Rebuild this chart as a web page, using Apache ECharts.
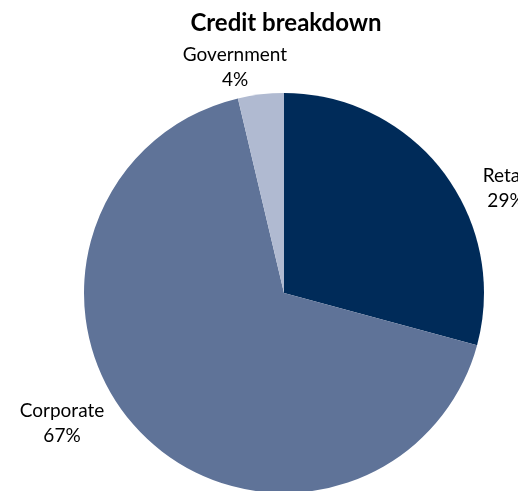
<!DOCTYPE html>
<html>
<head>
<meta charset="UTF-8">
<title>Credit breakdown</title>
<script src="https://cdn.jsdelivr.net/npm/echarts@6/dist/echarts.min.js"></script>
<style>
  html, body { margin: 0; padding: 0; background: #fff; }
  #main { width: 518px; height: 491px; }
</style>
</head>
<body>
<div id="main"></div>
<script>
  // slices, clockwise from 12 o'clock
  var categories = ['Retail', 'Corporate', 'Government'];
  var shares = [29.2, 67.1, 3.7];
  var colors = ['#002b59', '#5f7398', '#b0bad1'];
  // where each label sits (centre of the two-line text)
  var labelPos = [[506, 188], [62, 423], [235, 67]];

  var chart = echarts.init(document.getElementById('main'));

  var pieData = [];
  for (var i = 0; i < categories.length; i++) {
    pieData.push({ name: categories[i], value: shares[i], itemStyle: { color: colors[i] } });
  }

  chart.setOption({
    animation: false,
    title: {
      text: 'Credit breakdown',
      left: 281,
      top: 6,
      textAlign: 'center',
      textStyle: { fontFamily: 'Lato', fontWeight: 'bold', fontSize: 24, color: '#000' }
    },
    series: [{
      type: 'pie',
      center: [284, 293],
      radius: 200,
      startAngle: 90,
      clockwise: true,
      data: pieData,
      label: {
        show: true,
        position: 'outside',
        fontFamily: 'Lato',
        fontSize: 19,
        color: '#000',
        lineHeight: 25,
        align: 'center',
        overflow: 'none',
        formatter: function (p) { return p.name + '\n' + Math.round(p.value) + '%'; }
      },
      labelLine: { show: false },
      labelLayout: function (p) {
        var pos = labelPos[p.dataIndex];
        return { x: pos[0], y: pos[1], align: 'center', verticalAlign: 'middle' };
      },
      emphasis: { disabled: true }
    }]
  });
</script>
</body>
</html>
